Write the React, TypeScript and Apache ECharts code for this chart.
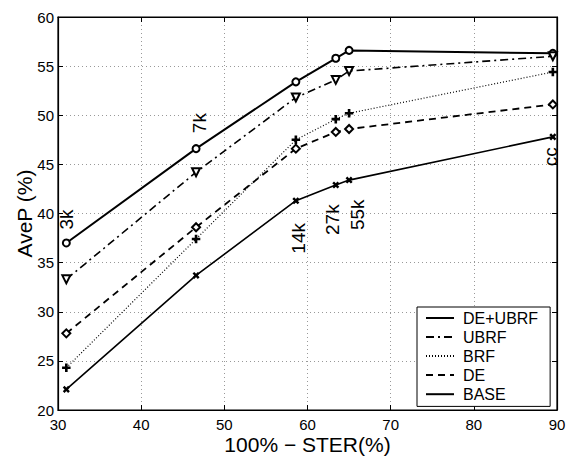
import React, { useEffect, useRef } from "react";
import * as echarts from "echarts";

const xValues = [31, 46.6, 58.6, 63.4, 65, 89.5];
const deUbrf = [37.0, 46.6, 53.4, 55.8, 56.6, 56.3];
const ubrf = [33.3, 44.2, 51.8, 53.6, 54.5, 56.0];
const brf = [24.3, 37.4, 47.5, 49.6, 50.2, 54.4];
const de = [27.8, 38.6, 46.6, 48.3, 48.6, 51.1];
const base = [22.1, 33.7, 41.3, 42.9, 43.4, 47.8];

const seriesNames = ["DE+UBRF", "UBRF", "BRF", "DE", "BASE"];
const seriesValues = [deUbrf, ubrf, brf, de, base];

// point annotations: [series name, point index, text]
const annotations: [string, number, string][] = [
  ["DE+UBRF", 0, "3k"],
  ["DE+UBRF", 1, "7k"],
  ["BASE", 2, "14k"],
  ["BASE", 3, "27k"],
  ["BASE", 4, "55k"],
  ["BASE", 5, "cc"],
];

const FONT = "Liberation Sans, Arial, Helvetica, sans-serif";

const plusPath = "path://M4.2,0H5.8V4.2H10V5.8H5.8V10H4.2V5.8H0V4.2H4.2Z";

const styles: Record<string, any> = {
  "DE+UBRF": { line: { width: 2, type: "solid" }, symbol: "emptyCircle", size: 7, rotate: 0 },
  UBRF: { line: { width: 1.6, type: [8, 4, 2, 4] }, symbol: "emptyTriangle", size: 8, rotate: 180 },
  BRF: { line: { width: 1.2, type: [1, 2] }, symbol: plusPath, size: 7, rotate: 0 },
  DE: { line: { width: 1.8, type: [7, 5] }, symbol: "emptyDiamond", size: 8, rotate: 0 },
  BASE: { line: { width: 1.6, type: "solid" }, symbol: plusPath, size: 6, rotate: 45 },
};

// dist: gap from the marker; dx: horizontal shift on screen
const labelPlacement: Record<string, { pos: string; dist: number; dx: number }> = {
  "3k": { pos: "top", dist: 9, dx: 0 },
  "7k": { pos: "top", dist: 11, dx: 3 },
  "14k": { pos: "bottom", dist: 17, dx: 3 },
  "27k": { pos: "bottom", dist: 14, dx: -3 },
  "55k": { pos: "bottom", dist: 14, dx: 8 },
  cc: { pos: "bottom", dist: 5, dx: -2 },
};

export default function App() {
  const ref = useRef<HTMLDivElement>(null);
  useEffect(() => {
    if (!ref.current) return;
    const chart = echarts.init(ref.current, null, { renderer: "svg" });

    const series = seriesNames.map((name, si) => {
      const st = styles[name];
      const data = xValues.map((x, i) => {
        const ann = annotations.find((a) => a[0] === name && a[1] === i);
        const item: any = { value: [x, seriesValues[si][i]] };
        if (ann) {
          const p = labelPlacement[ann[2]];
          item.label = {
            show: true,
            formatter: ann[2],
            position: p.pos,
            distance: p.dist,
            // offset is applied in the rotated text frame: local y = screen x
            offset: [0, p.dx],
            rotate: 90,
            align: p.pos === "top" ? "left" : "right",
            verticalAlign: "middle",
            fontSize: 19,
            fontFamily: FONT,
            color: "#000",
          };
        }
        return item;
      });
      return {
        name,
        type: "line",
        xAxisIndex: 0,
        yAxisIndex: 0,
        data,
        symbol: st.symbol,
        symbolSize: st.size,
        symbolRotate: st.rotate,
        showAllSymbol: true,
        lineStyle: { color: "#000", width: st.line.width, type: st.line.type },
        itemStyle: { color: "#000", borderColor: "#000", borderWidth: 1.5 },
        emphasis: { disabled: true },
        z: 3,
      };
    });

    const axisCommon = {
      axisLine: { show: true, lineStyle: { color: "#000", width: 1.2 } },
      axisTick: { show: true, inside: true, length: 5, lineStyle: { color: "#000" } },
    };

    chart.setOption({
      animation: false,
      grid: {
        left: 58,
        right: 10,
        top: 17,
        bottom: 46,
        show: true,
        borderColor: "#000",
        borderWidth: 1.2,
        containLabel: false,
        outerBoundsMode: "none",
      },
      legend: {
        left: 417,
        top: 307,
        orient: "vertical",
        itemWidth: 28,
        itemHeight: 12,
        itemGap: 3,
        padding: [3, 12, 4, 8],
        borderColor: "#000",
        borderWidth: 1,
        borderRadius: 0,
        backgroundColor: "#fff",
        itemStyle: { opacity: 0 },
        textStyle: { fontSize: 16, color: "#000", fontFamily: FONT, padding: [0, 0, 0, 4] },
        data: seriesNames,
        selectedMode: false,
      },
      xAxis: [
        {
          type: "value",
          min: 30,
          max: 90,
          interval: 10,
          name: "100% \u2212 STER(%)",
          nameLocation: "middle",
          nameGap: 24,
          nameMoveOverlap: false,
          nameTextStyle: { fontSize: 21, color: "#000", fontFamily: FONT },
          axisLabel: { fontSize: 15, color: "#000", fontFamily: FONT, margin: 7 },
          splitLine: { show: true, lineStyle: { color: "#999", type: [1, 3], width: 1 } },
          ...axisCommon,
        },
        {
          type: "value",
          position: "top",
          min: 30,
          max: 90,
          interval: 10,
          axisLabel: { show: false },
          splitLine: { show: false },
          ...axisCommon,
        },
      ],
      yAxis: [
        {
          type: "value",
          min: 20,
          max: 60,
          interval: 5,
          name: "AveP (%)",
          nameLocation: "middle",
          nameGap: 23,
          nameMoveOverlap: false,
          nameTextStyle: { fontSize: 21, color: "#000", fontFamily: FONT },
          axisLabel: { fontSize: 15, color: "#000", fontFamily: FONT, margin: 4 },
          splitLine: { show: true, lineStyle: { color: "#999", type: [1, 3], width: 1 } },
          ...axisCommon,
        },
        {
          type: "value",
          position: "right",
          min: 20,
          max: 60,
          interval: 5,
          axisLabel: { show: false },
          splitLine: { show: false },
          ...axisCommon,
        },
      ],
      series,
    });
    return () => chart.dispose();
  }, []);
  return (
    <div
      ref={ref}
      style={{ position: "fixed", left: 0, top: 0, width: 567, height: 456, background: "#fff" }}
    />
  );
}
